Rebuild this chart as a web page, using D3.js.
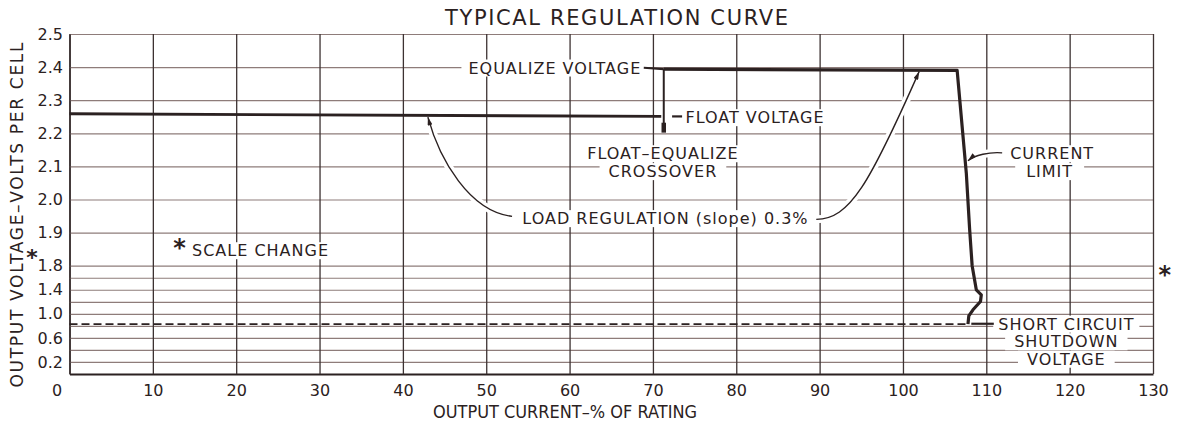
<!DOCTYPE html>
<html>
<head>
<meta charset="utf-8">
<script src="https://cdn.jsdelivr.net/npm/d3@7"></script>
<style>
  body { margin: 0; background: #fff; }
  svg { display: block; font-family: "DejaVu Sans", sans-serif; }
</style>
</head>
<body>
<svg id="chart"></svg>
<script>
const width = 1178;
const height = 423;
const ink = "#2b2121";

// axis ticks
const xTickValues = [0, 10, 20, 30, 40, 50, 60, 70, 80, 90, 100, 110, 120, 130];
const yGridValues = [0.2, 0.4, 0.6, 0.8, 1.0, 1.2, 1.4, 1.6, 1.8, 1.9, 2.0, 2.1, 2.2, 2.3, 2.4, 2.5];
const yTickLabels = [0.2, 0.6, 1.0, 1.4, 1.8, 1.9, 2.0, 2.1, 2.2, 2.3, 2.4, 2.5];

// curve pieces, [output current %, volts per cell]
const floatVoltage = [[0, 2.259], [71.0, 2.251]];
const crossover = [[71.3, 2.394], [71.3, 2.215]];
const crossoverTick = [[71.3, 2.232], [71.3, 2.202]];
const equalizeVoltage = [[71.3, 2.394], [106.5, 2.390]];
const currentLimit = [[106.5, 2.390], [107.6, 2.08], [108.0, 1.91], [108.3, 1.8], [108.8, 1.40],
                      [109.4, 1.317], [109.3, 1.205], [108.4, 1.067], [107.9, 0.967], [107.8, 0.83]];
const shutdownVoltage = [[0, 0.83], [107.8, 0.83]];

const svg = d3.select("#chart")
    .attr("width", width)
    .attr("height", height);

// scale changes at 1.8 V
const x = d3.scaleLinear().domain([0, 130]).range([69.5, 1153]);
const y = d3.scaleLinear().domain([0, 1.8, 2.5]).range([374, 265.7, 34]);

const line = d3.line().x(d => x(d[0])).y(d => y(d[1]));

// horizontal grid + y labels
const gy = svg.append("g")
    .attr("transform", `translate(${x(0)},0)`)
    .call(d3.axisLeft(y)
        .tickValues(yGridValues)
        .tickSize(-(x(130) - x(0)))
        .tickSizeOuter(0)
        .tickPadding(6.5)
        .tickFormat(d => yTickLabels.includes(d) ? d3.format(".1f")(d) : ""));
gy.attr("font-size", 16).attr("font-family", null);
gy.select(".domain").attr("stroke", ink).attr("stroke-width", 1.6);
gy.selectAll(".tick line").attr("stroke", "#8e7c7a").attr("stroke-width", 1.2);
gy.selectAll(".tick text").attr("fill", ink);

// vertical grid + x labels
const gx = svg.append("g")
    .attr("transform", `translate(0,${y(0)})`)
    .call(d3.axisBottom(x)
        .tickValues(xTickValues)
        .tickSize(-(y(0) - y(2.5)))
        .tickSizeOuter(0)
        .tickPadding(11)
        .tickFormat(d3.format("d")));
gx.attr("font-size", 16).attr("font-family", null);
gx.select(".domain").attr("stroke", ink).attr("stroke-width", 1.8);
gx.selectAll(".tick line").attr("stroke", "#3d3232").attr("stroke-width", 1.3);
gx.selectAll(".tick text").attr("fill", ink)
    .filter(d => d === 0).attr("dx", -13);

// layers
const bgGroup = svg.append("g");
const curveGroup = svg.append("g");
const arrowGroup = svg.append("g");
const textGroup = svg.append("g").attr("fill", ink);

svg.append("defs").append("marker")
    .attr("id", "head")
    .attr("markerUnits", "userSpaceOnUse")
    .attr("viewBox", "0 0 10 6")
    .attr("refX", 10).attr("refY", 3)
    .attr("markerWidth", 9).attr("markerHeight", 5)
    .attr("orient", "auto")
    .append("path")
    .attr("d", "M0,0L10,3L0,6Z")
    .attr("fill", ink);

// curves
curveGroup.append("path").datum(shutdownVoltage)
    .attr("d", line).attr("fill", "none")
    .attr("stroke", ink).attr("stroke-width", 1.7).attr("stroke-dasharray", "8,4");
curveGroup.append("path").datum(floatVoltage)
    .attr("d", line).attr("fill", "none")
    .attr("stroke", ink).attr("stroke-width", 2.8);
curveGroup.append("path").datum(crossover)
    .attr("d", line).attr("fill", "none")
    .attr("stroke", ink).attr("stroke-width", 2);
curveGroup.append("path").datum(crossoverTick)
    .attr("d", line).attr("fill", "none")
    .attr("stroke", ink).attr("stroke-width", 4.5);
curveGroup.append("path").datum(equalizeVoltage.concat(currentLimit.slice(1)))
    .attr("d", line).attr("fill", "none")
    .attr("stroke", ink).attr("stroke-width", 3.2)
    .attr("stroke-linejoin", "round");

// short leader lines from labels to the curve
const leaders = [
    [[68.9, 2.398], [71.3, 2.394]],
    [[72.3, 2.251], [73.5, 2.251]],
    [[108.2, 0.835], [110.9, 0.835]]
];
curveGroup.selectAll(".leader").data(leaders).enter().append("path")
    .attr("d", line).attr("fill", "none")
    .attr("stroke", ink).attr("stroke-width", 2.2);

// curved arrows
const arrows = [
    [[53.1, 1.949], [48.0, 1.964], [44.4, 2.120], [43.0, 2.249]],
    [[89.6, 1.940], [93.6, 1.940], [96.0, 2.048], [101.95, 2.387]],
    [[111.9, 2.141], [110.4, 2.144], [108.6, 2.135], [107.8, 2.117]]
];
const arrowPath = d => {
    const p = d.map(q => [x(q[0]), y(q[1])]);
    return `M${p[0]}C${p[1]} ${p[2]} ${p[3]}`;
};
bgGroup.selectAll(".halo").data(arrows).enter().append("path")
    .attr("d", arrowPath).attr("fill", "none")
    .attr("stroke", "#fff").attr("stroke-width", 8);
arrowGroup.selectAll(".arrow").data(arrows).enter().append("path")
    .attr("d", arrowPath).attr("fill", "none")
    .attr("stroke", ink).attr("stroke-width", 1.4)
    .attr("marker-end", "url(#head)");

// labels on the plot
const notes = [
    {t: "EQUALIZE VOLTAGE", x: 68.6, y: 2.398, a: "end", px: 7},
    {t: "FLOAT VOLTAGE", x: 73.9, y: 2.248, a: "start", px: 8},
    {t: "FLOAT–EQUALIZE", x: 71.2, y: 2.139, a: "middle", px: 9},
    {t: "CROSSOVER", x: 71.2, y: 2.085, a: "middle", px: 9},
    {t: "LOAD REGULATION (slope) 0.3%", x: 71.5, y: 1.943, a: "middle", px: 8},
    {t: "CURRENT", x: 117.9, y: 2.139, a: "middle", px: 9},
    {t: "LIMIT", x: 117.6, y: 2.085, a: "middle", px: 11},
    {t: "SHORT CIRCUIT", x: 119.6, y: 0.833, a: "middle", px: 5},
    {t: "SHUTDOWN", x: 119.6, y: 0.54, a: "middle", px: 9},
    {t: "VOLTAGE", x: 119.6, y: 0.25, a: "middle", px: 9},
    {t: "SCALE CHANGE", x: 14.7, y: 1.846, a: "start", px: 4}
];
const noteText = textGroup.selectAll(".note").data(notes).enter().append("text")
    .attr("x", d => x(d.x))
    .attr("y", d => y(d.y))
    .attr("dy", "0.36em")
    .attr("text-anchor", d => d.a)
    .attr("font-size", 16)
    .attr("letter-spacing", 1)
    .text(d => d.t);

noteText.each(function(d) {
    const b = this.getBBox();
    bgGroup.append("rect")
        .attr("x", b.x - d.px).attr("y", b.y + 1)
        .attr("width", b.width + 2 * d.px).attr("height", b.height - 2)
        .attr("fill", "#fff");
});

// asterisks marking the scale change
const stars = [[13.2, 1.882, 24], [-4.5, 1.85, 22], [131.4, 1.80, 24]];
textGroup.selectAll(".star").data(stars).enter().append("text")
    .attr("x", d => x(d[0]))
    .attr("y", d => y(d[1]))
    .attr("dy", "0.72em")
    .attr("text-anchor", "middle")
    .attr("font-size", d => d[2])
    .attr("font-weight", "bold")
    .text("*");

// titles
svg.append("text")
    .attr("x", 616.5).attr("y", 17).attr("dy", "0.36em")
    .attr("text-anchor", "middle")
    .attr("font-size", 21)
    .attr("textLength", 343).attr("lengthAdjust", "spacing")
    .attr("fill", ink)
    .text("TYPICAL REGULATION CURVE");

svg.append("text")
    .attr("x", 565).attr("y", 412).attr("dy", "0.36em")
    .attr("text-anchor", "middle")
    .attr("font-size", 17)
    .attr("textLength", 264).attr("lengthAdjust", "spacingAndGlyphs")
    .attr("fill", ink)
    .text("OUTPUT CURRENT–% OF RATING");

svg.append("text")
    .attr("transform", "translate(17,215) rotate(-90)")
    .attr("dy", "0.36em")
    .attr("text-anchor", "middle")
    .attr("font-size", 17)
    .attr("textLength", 345).attr("lengthAdjust", "spacing")
    .attr("fill", ink)
    .text("OUTPUT VOLTAGE–VOLTS PER CELL");
</script>
</body>
</html>
